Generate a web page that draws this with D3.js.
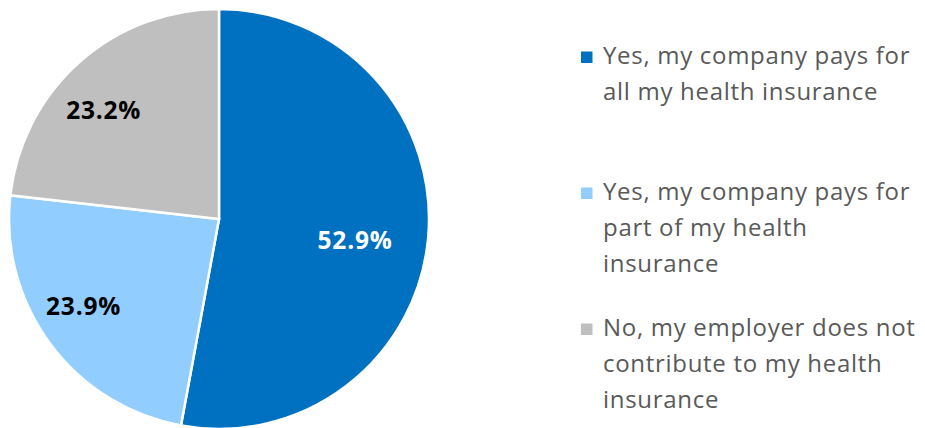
<!DOCTYPE html>
<html>
<head>
<meta charset="utf-8">
<script src="https://cdn.jsdelivr.net/npm/d3@7"></script>
<style>
  html, body { margin: 0; padding: 0; background: #ffffff; }
  svg { display: block; }
</style>
</head>
<body>
<svg id="chart" width="925" height="428"></svg>
<script>
// Survey answers: does the employer pay for health insurance?
const categories = [
  "Yes, my company pays for all my health insurance",
  "Yes, my company pays for part of my health insurance",
  "No, my employer does not contribute to my health insurance"
];
const shares = [52.9, 23.9, 23.2];
const shareLabels = ["52.9%", "23.9%", "23.2%"];
const legendLines = [
  ["Yes, my company pays for", "all my health insurance"],
  ["Yes, my company pays for", "part of my health", "insurance"],
  ["No, my employer does not", "contribute to my health", "insurance"]
];
const sliceColors = ["#0070C0", "#92CDFF", "#BFBFBF"];
const labelColors = ["#ffffff", "#000000", "#000000"];

const FONT = "'Open Sans', Lato, sans-serif";
const svg = d3.select("#chart");

const cx = 219, cy = 219, radius = 210;

const data = categories.map((c, i) => ({ category: c, value: shares[i], i }));

const pie = d3.pie()
  .sort(null)
  .value(d => d.value);

const arc = d3.arc().innerRadius(0).outerRadius(radius);

const arcs = pie(data);

const g = svg.append("g").attr("transform", `translate(${cx},${cy})`);

g.selectAll("path.slice")
  .data(arcs)
  .join("path")
  .attr("class", "slice")
  .attr("d", arc)
  .attr("fill", d => sliceColors[d.data.i])
  .attr("stroke", "#ffffff")
  .attr("stroke-width", 2.5)
  .attr("stroke-linejoin", "miter");

// label placement per slice: distance from centre (fraction of radius)
// and a small turn away from the slice's mid angle
const labelRadiusFactor = [0.656, 0.766, 0.756];
const labelAngleShift = [0.066, 0.068, -0.084];

function labelPos(d) {
  const a = (d.startAngle + d.endAngle) / 2 + labelAngleShift[d.data.i];
  const r = radius * labelRadiusFactor[d.data.i];
  return [Math.sin(a) * r, -Math.cos(a) * r];
}

g.selectAll("text.value")
  .data(arcs)
  .join("text")
  .attr("class", "value")
  .attr("x", d => labelPos(d)[0])
  .attr("y", d => labelPos(d)[1])
  .attr("dy", "0.36em")
  .attr("text-anchor", "middle")
  .attr("font-family", FONT)
  .attr("font-weight", "bold")
  .attr("font-size", 24.5)
  .attr("letter-spacing", 0.8)
  .attr("fill", d => labelColors[d.data.i])
  .text(d => shareLabels[d.data.i]);

// Legend
const legend = svg.append("g").attr("transform", "translate(581,64)");
const itemGap = 136, lineGap = 36;

const items = legend.selectAll("g.item")
  .data(categories)
  .join("g")
  .attr("class", "item")
  .attr("transform", (d, i) => `translate(0,${i * itemGap})`);

items.append("rect")
  .attr("x", 0)
  .attr("y", -12.5)
  .attr("width", 11.5)
  .attr("height", 11.5)
  .attr("fill", (d, i) => sliceColors[i]);

items.each(function (d, i) {
  const t = d3.select(this).append("text")
    .attr("font-family", FONT)
    .attr("font-size", 24)
    .attr("letter-spacing", 0.7)
    .attr("fill", "#595959");
  legendLines[i].forEach((line, j) => {
    t.append("tspan")
      .attr("x", 22)
      .attr("y", j * lineGap)
      .text(line);
  });
});
</script>
</body>
</html>
